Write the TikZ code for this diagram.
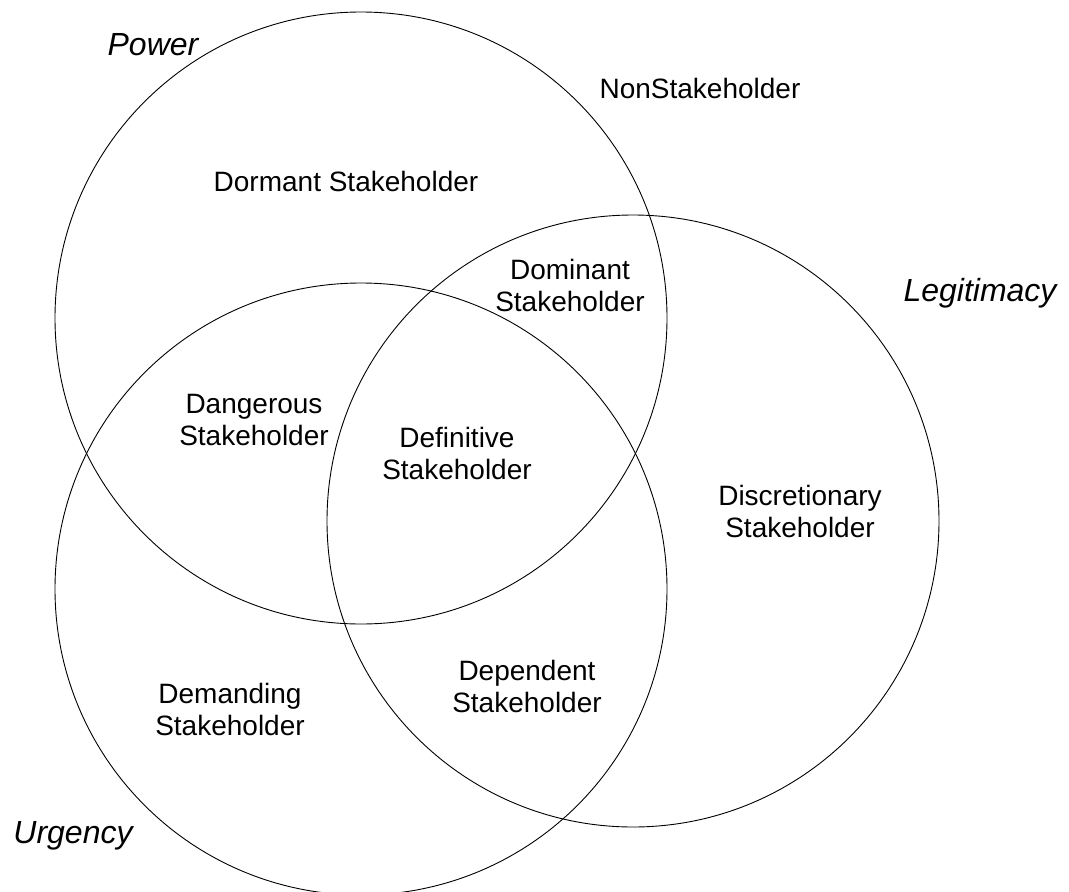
\documentclass[tikz,border=0pt]{standalone}
\usepackage{fontspec}
\setmainfont{Liberation Sans}
\usetikzlibrary{positioning}

\tikzset{
  ring/.style={line width=0.9pt, black},
  region/.style={align=center, inner sep=0pt, font=\fontsize{28}{32}\selectfont},
  setname/.style={inner sep=0pt, font=\fontsize{32}{38}\selectfont\itshape}
}

\begin{document}
\begin{tikzpicture}[x=1pt, y=-1pt]
          \useasboundingbox (0,0) rectangle (1069,892);

          % circles
          \begin{scope}
            \draw[ring] (361,318) circle[radius=306pt];
            \draw[ring] (633,521) circle[radius=306pt];
            \draw[ring] (361,589) circle[radius=306pt];
          \end{scope}

          % set names
          \begin{scope}
            \node[setname] (power) at (153,45) {Power};
            \node[setname] (legitimacy) at (980,293) {Legitimacy};
            \node[setname] (urgency) at (73,836) {Urgency};
          \end{scope}

          % regions
          \begin{scope}
            \node[region] (non) at (700,88) {NonStakeholder};
            \node[region] (dormant) at (346,181) {Dormant Stakeholder};
            \node[region] (dominant) at (570,285) {Dominant\\Stakeholder};
            \node[region] (dangerous) at (254,420) {Dangerous\\Stakeholder};
            \node[region] (definitive) at (457,453) {Definitive\\Stakeholder};
            \node[region] (discretionary) at (800,511) {Discretionary\\Stakeholder};
            \node[region] (demanding) at (230,709) {Demanding\\Stakeholder};
            \node[region] (dependent) at (527,686) {Dependent\\Stakeholder};
          \end{scope}
        \end{tikzpicture}
\end{document}
